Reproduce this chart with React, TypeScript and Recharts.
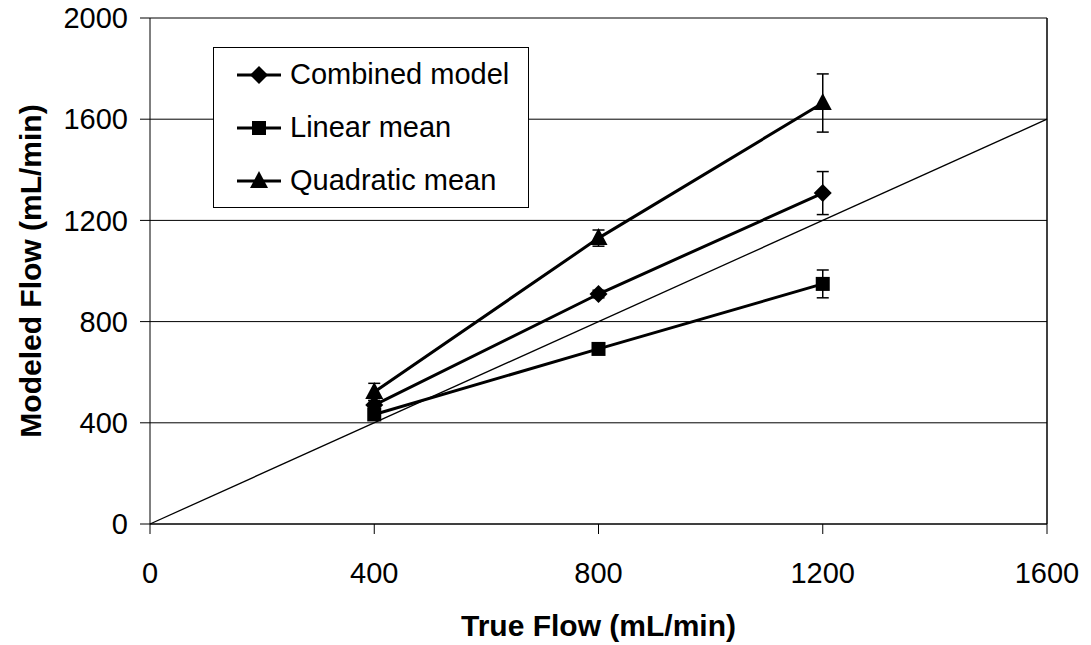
import {
  ComposedChart,
  Line,
  XAxis,
  YAxis,
  CartesianGrid,
  ReferenceLine,
  ErrorBar,
} from "recharts";

const trueFlow = [400, 800, 1200];
const combined = [470, 909, 1308];
const combinedErr = [18, 15, 85];
const linear = [433, 692, 949];
const linearErr = [12, 10, 55];
const quadratic = [522, 1130, 1664];
const quadraticErr = [34, 32, 115];

const identity = [
  { x: 0, y: 0 },
  { x: 1600, y: 1600 },
];

const xTicks = [0, 400, 800, 1200, 1600];
const yTicks = [0, 400, 800, 1200, 1600, 2000];

const rows = trueFlow.map((x, i) => ({
  x,
  combined: combined[i],
  combinedErr: combinedErr[i],
  linear: linear[i],
  linearErr: linearErr[i],
  quadratic: quadratic[i],
  quadraticErr: quadraticErr[i],
}));

const FONT = '"Liberation Sans", Arial, sans-serif';

function diamondAt(cx: number, cy: number, k?: string) {
  return (
    <polygon key={k} points={`${cx},${cy - 9} ${cx + 9},${cy} ${cx},${cy + 9} ${cx - 9},${cy}`} fill="#000" />
  );
}
function squareAt(cx: number, cy: number, k?: string) {
  return <rect key={k} x={cx - 7} y={cy - 7} width={14} height={14} fill="#000" />;
}
function triangleAt(cx: number, cy: number, k?: string) {
  return (
    <polygon key={k} points={`${cx},${cy - 10} ${cx + 9},${cy + 7} ${cx - 9},${cy + 7}`} fill="#000" />
  );
}

const mk = (fn: typeof diamondAt, name: string) => (p: any) => {
  if (p.cx == null || p.cy == null) return <g key={`${name}-${p.index}`} />;
  return fn(p.cx, p.cy, `${name}-${p.index}`);
};

const series = [
  { key: "combined", label: "Combined model", shape: diamondAt },
  { key: "linear", label: "Linear mean", shape: squareAt },
  { key: "quadratic", label: "Quadratic mean", shape: triangleAt },
];

function LegendBox() {
  return (
    <div
      style={{
        position: "absolute",
        left: 213,
        top: 47,
        border: "1px solid #000",
        background: "#fff",
        width: 316,
        height: 161,
        boxSizing: "border-box",
        paddingTop: 0,
        fontFamily: FONT,
        fontSize: 29,
        color: "#000",
      }}
    >
      {series.map((s) => (
        <div key={s.key} style={{ display: "flex", alignItems: "center", height: 53 }}>
          <svg width={76} height={30} style={{ flex: "none" }}>
            <line x1={23} y1={15} x2={67} y2={15} stroke="#000" strokeWidth={3} />
            {s.shape(45, 15)}
          </svg>
          <span>{s.label}</span>
        </div>
      ))}
    </div>
  );
}

export default function App() {
  return (
    <div style={{ position: "absolute", left: 0, top: 0, width: 1091, height: 645, background: "#fff" }}>
      <ComposedChart
        width={1091}
        height={645}
        data={rows}
        margin={{ top: 18, right: 44, bottom: 0, left: 0 }}
      >
        <CartesianGrid vertical={false} stroke="#000" strokeWidth={1} />
        <XAxis
          type="number"
          dataKey="x"
          domain={[0, 1600]}
          ticks={xTicks}
          height={121}
          stroke="#000"
          tickSize={10}
          tickMargin={28}
          tick={{ fill: "#000", fontSize: 29, fontFamily: FONT }}
          label={{
            value: "True Flow (mL/min)",
            position: "insideBottom",
            offset: 9,
            style: { fontSize: 30, fontWeight: "bold", fontFamily: FONT, fill: "#000" },
          }}
        />
        <YAxis
          type="number"
          domain={[0, 2000]}
          ticks={yTicks}
          width={150}
          stroke="#000"
          tickSize={10}
          tickMargin={12}
          tick={{ fill: "#000", fontSize: 29, fontFamily: FONT }}
          label={{
            value: "Modeled Flow (mL/min)",
            angle: -90,
            position: "insideLeft",
            offset: 30,
            style: { textAnchor: "middle", fontSize: 30, fontWeight: "bold", fontFamily: FONT, fill: "#000" },
          }}
        />
        <ReferenceLine x={1600} stroke="#000" strokeWidth={1.5} />
        <Line
          data={identity}
          dataKey="y"
          stroke="#000"
          strokeWidth={1.3}
          dot={false}
          legendType="none"
          isAnimationActive={false}
        />
        {series.map((s) => (
          <Line
            key={s.key}
            dataKey={s.key}
            name={s.label}
            stroke="#000"
            strokeWidth={3}
            dot={mk(s.shape, s.key)}
            activeDot={false}
            isAnimationActive={false}
          >
            <ErrorBar dataKey={`${s.key}Err`} width={6} stroke="#000" strokeWidth={1.5} direction="y" />
          </Line>
        ))}
      </ComposedChart>
      <LegendBox />
    </div>
  );
}
